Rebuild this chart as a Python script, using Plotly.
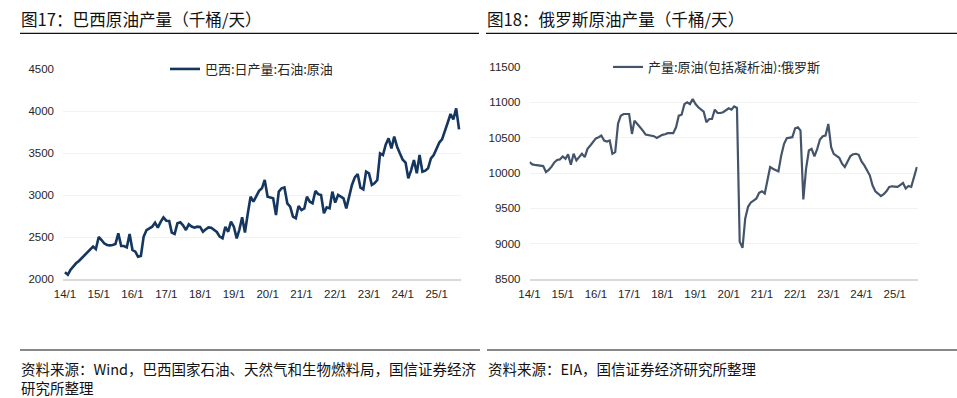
import pandas as pd
import plotly.graph_objects as go

W, H = 957, 398

# ---------------- data ----------------
tick_labels = ["14/1", "15/1", "16/1", "17/1", "18/1", "19/1",
               "20/1", "21/1", "22/1", "23/1", "24/1", "25/1"]
tick_years = list(range(2014, 2026))

brazil_name = "巴西:日产量:石油:原油"
brazil_start = "2014-01-01"
brazil_values = [
    2080, 2050, 2107, 2150, 2187, 2215, 2246, 2286, 2320, 2353, 2385, 2355,
    2500, 2464, 2425, 2405, 2400, 2405, 2417, 2544, 2393, 2393, 2377, 2536,
    2345, 2325, 2266, 2274, 2504, 2583, 2605, 2623, 2670, 2611, 2680, 2734,
    2694, 2690, 2552, 2536, 2663, 2675, 2640, 2583, 2651, 2625, 2611, 2623,
    2620, 2563, 2590, 2615, 2610, 2583, 2560, 2504, 2484, 2620, 2563, 2682,
    2623, 2484, 2583, 2734, 2552, 2780, 2980, 2921, 2980, 3050, 3079, 3179,
    2980, 2970, 2960, 2762, 3040, 3080, 3091, 2901, 2861, 2742, 2722, 2869,
    2821, 2840, 2980, 2920, 2901, 3048, 3010, 3000, 2782, 2853, 2841, 3040,
    2909, 3000, 2980, 2960, 2841, 2980, 3119, 3210, 3250, 3087, 3067, 3278,
    3258, 3119, 3139, 3178, 3496, 3476, 3600, 3675, 3555, 3695, 3575, 3496,
    3420, 3385, 3198, 3297, 3417, 3258, 3476, 3278, 3290, 3317, 3436, 3476,
    3560, 3627, 3663, 3754, 3860, 3964, 3901, 4032, 3782,
]

russia_name = "产量:原油(包括凝析油):俄罗斯"
russia_start = "2014-01-01"
russia_values = [
    10155, 10122, 10115, 10108, 10100, 10098, 10014, 10045, 10090, 10150, 10185, 10192,
    10234, 10202, 10263, 10117, 10272, 10178, 10225, 10272, 10225, 10342, 10389, 10440,
    10490, 10507, 10530, 10460, 10446, 10460, 10272, 10295, 10700, 10811, 10835, 10835,
    10835, 10553, 10741, 10694, 10650, 10600, 10544, 10539, 10530, 10521, 10497, 10521,
    10540, 10549, 10563, 10563, 10563, 10647, 10811, 10825, 10975, 10999, 10975, 11046,
    10975, 10930, 10905, 10868, 10718, 10764, 10764, 10896, 10849, 10849, 10860, 10882,
    10915, 10896, 10943, 10920, 9029, 8940, 9357, 9522, 9583, 9610, 9639, 9720,
    9742, 9709, 9873, 10084, 10061, 10038, 10023, 10249, 10413, 10492, 10500, 10507,
    10633, 10647, 10600, 9625, 10061, 10319, 10342, 10234, 10342, 10474, 10521, 10530,
    10694, 10366, 10272, 10240, 10216, 10131, 10084, 10164, 10239, 10265, 10272, 10258,
    10164, 10108, 10040, 9967, 9826, 9742, 9709, 9672, 9700, 9742, 9803, 9812,
    9808, 9803, 9830, 9859, 9780, 9817, 9803, 9930, 10084,
]

left_title = "图17：巴西原油产量（千桶/天）"
right_title = "图18：俄罗斯原油产量（千桶/天）"
left_source_1 = "资料来源：Wind，巴西国家石油、天然气和生物燃料局，国信证券经济"
left_source_2 = "研究所整理"
right_source = "资料来源：EIA，国信证券经济研究所整理"

brazil_dates = pd.date_range(brazil_start, periods=len(brazil_values), freq="MS")
russia_dates = pd.date_range(russia_start, periods=len(russia_values), freq="MS")
tick_vals = [pd.Timestamp(year=y, month=1, day=1) for y in tick_years]

# ---------------- helpers ----------------
def px_x(p):
    return p / W

def px_y(p):
    return 1 - p / H

CJK = "Noto Sans CJK SC, Noto Sans, sans-serif"
NUM = "Liberation Sans, Arial, sans-serif"

fig = go.Figure()

fig.add_trace(go.Scatter(
    x=brazil_dates, y=brazil_values, mode="lines", name=brazil_name,
    line=dict(color="#14365f", width=2.6), xaxis="x", yaxis="y",
    legend="legend", hoverinfo="skip",
))
fig.add_trace(go.Scatter(
    x=russia_dates, y=russia_values, mode="lines", name=russia_name,
    line=dict(color="#44546a", width=2.2), xaxis="x2", yaxis="y2",
    legend="legend2", hoverinfo="skip",
))

axis_font = dict(family=NUM, size=11.5, color="#262626")

xcommon = dict(
    type="date", tickvals=tick_vals, ticktext=tick_labels, tickangle=0,
    showgrid=False, zeroline=False, showline=True, linecolor="#d9d9d9",
    linewidth=1.5, ticks="", tickfont=axis_font, fixedrange=True,
    automargin=False, ticklabelstandoff=3,
)
ycommon = dict(
    showgrid=True, gridcolor="#f2f2f2", gridwidth=1, zeroline=False,
    showline=False, ticks="", tickfont=axis_font, fixedrange=True,
    ticklabelstandoff=8, tickformat="d", automargin=False,
)

legend_common = dict(
    xanchor="left", yanchor="middle", orientation="h",
    bgcolor="rgba(0,0,0,0)", font=dict(family=CJK, size=13, color="#262626"),
    itemwidth=30, tracegroupgap=0, borderwidth=0,
)

fig.update_layout(
    template="none",
    width=W, height=H,
    margin=dict(l=0, r=0, t=0, b=0, pad=0, autoexpand=False),
    paper_bgcolor="white", plot_bgcolor="white",
    showlegend=True,
    xaxis=dict(xcommon, domain=[px_x(63), px_x(461)],
               range=["2013-12-11", "2025-09-22"], anchor="y"),
    yaxis=dict(ycommon, domain=[px_y(279), px_y(69)], range=[2000, 4500],
               tickvals=[2000, 2500, 3000, 3500, 4000, 4500], anchor="x"),
    xaxis2=dict(xcommon, domain=[px_x(529.5), px_x(917.7)],
                range=["2014-01-01", "2025-09-10"], anchor="y2"),
    yaxis2=dict(ycommon, domain=[px_y(279), px_y(67)], range=[8500, 11500],
                tickvals=[8500, 9000, 9500, 10000, 10500, 11000, 11500], anchor="x2"),
    legend=dict(legend_common, x=px_x(165), y=px_y(69)),
    legend2=dict(legend_common, x=px_x(608), y=px_y(67)),
)

annotations = [
    dict(text=left_title, x=px_x(20), y=px_y(19), xanchor="left", yanchor="middle",
         font=dict(family=CJK, size=16.6, color="#111111")),
    dict(text=right_title, x=px_x(486), y=px_y(19), xanchor="left", yanchor="middle",
         font=dict(family=CJK, size=16.6, color="#111111")),
    dict(text=left_source_1, x=px_x(20), y=px_y(368), xanchor="left", yanchor="middle",
         font=dict(family=CJK, size=14.5, color="#111111")),
    dict(text=left_source_2, x=px_x(20), y=px_y(387), xanchor="left", yanchor="middle",
         font=dict(family=CJK, size=14.5, color="#111111")),
    dict(text=right_source, x=px_x(487), y=px_y(368), xanchor="left", yanchor="middle",
         font=dict(family=CJK, size=14.5, color="#111111")),
]
for a in annotations:
    a.update(xref="paper", yref="paper", showarrow=False, borderpad=0)
fig.update_layout(annotations=annotations)

shapes = [
    # title underlines
    dict(x0=px_x(20), x1=px_x(479), y0=px_y(33.3), y1=px_y(33.3),
         line=dict(color="#111111", width=1.3)),
    dict(x0=px_x(486), x1=px_x(957), y0=px_y(33.3), y1=px_y(33.3),
         line=dict(color="#111111", width=1.3)),
    # footer separators
    dict(x0=px_x(20), x1=px_x(480), y0=px_y(350), y1=px_y(350),
         line=dict(color="#606060", width=1.5)),
    dict(x0=px_x(487), x1=px_x(957), y0=px_y(350), y1=px_y(350),
         line=dict(color="#606060", width=1.5)),
]
for s in shapes:
    s.update(type="line", xref="paper", yref="paper")
fig.update_layout(shapes=shapes)

fig.write_html(
    "out.html",
    config=dict(displayModeBar=False),
    post_script="document.body.style.margin='0';document.body.style.overflow='hidden';",
)
